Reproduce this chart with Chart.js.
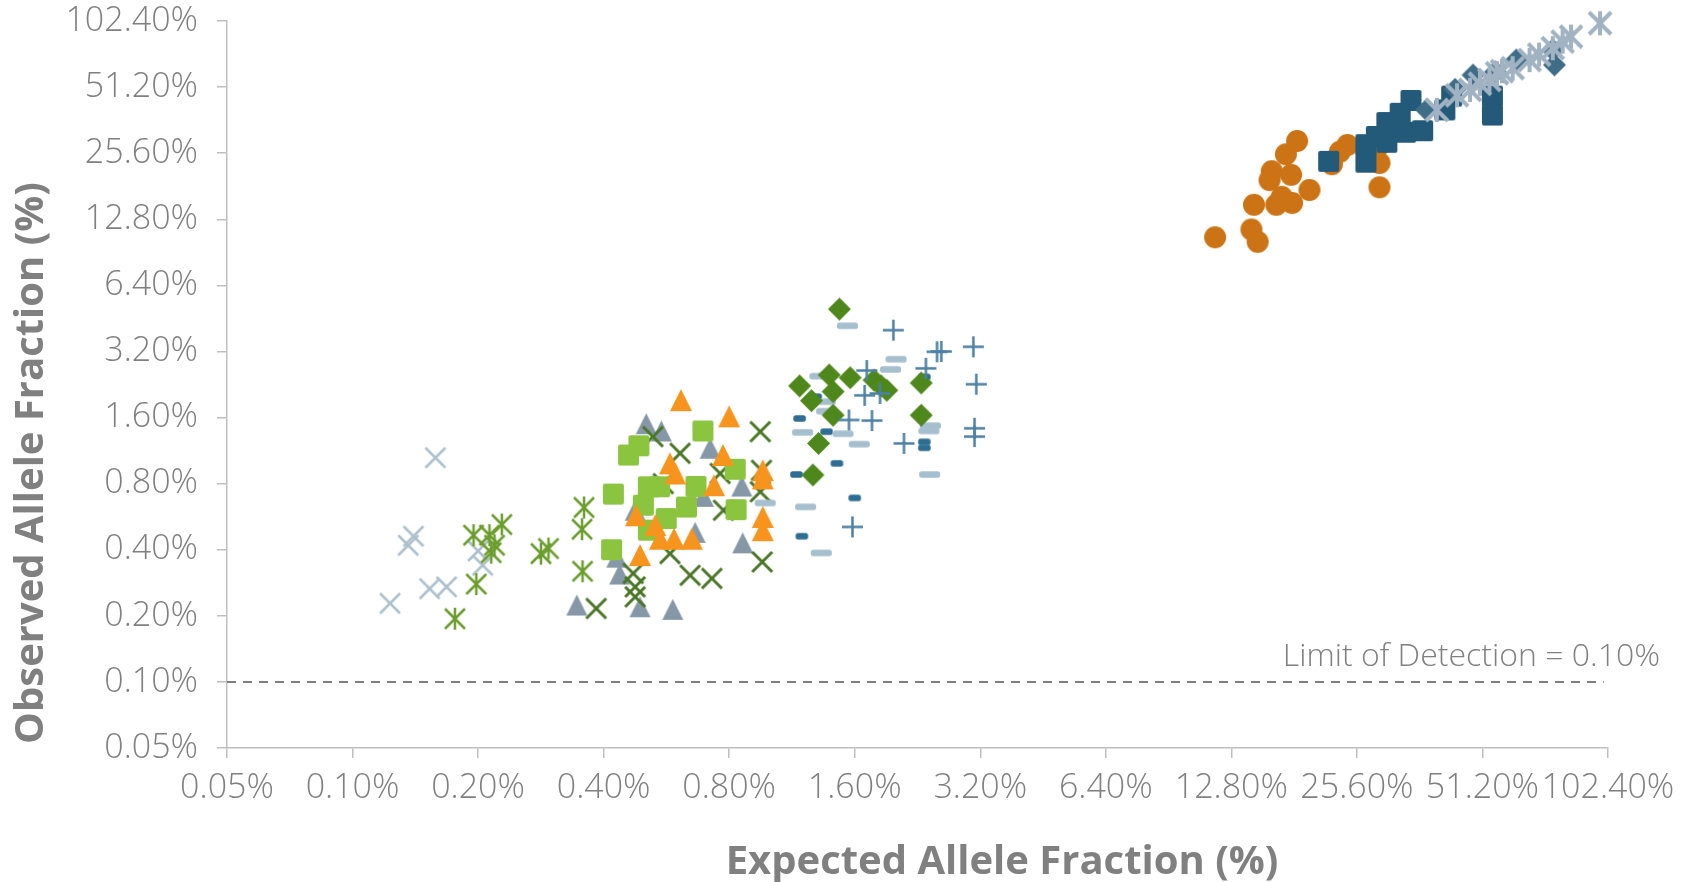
<!DOCTYPE html>
<html>
<head>
<meta charset="utf-8">
<script src="https://cdn.jsdelivr.net/npm/chart.js@4.4.1/dist/chart.umd.min.js"></script>
<style>
  html, body { margin: 0; padding: 0; background: #ffffff; }
  #wrap { width: 1688px; height: 882px; position: relative; }
</style>
</head>
<body>
<div id="wrap"><canvas id="chart"></canvas></div>
<script>
// Axis ticks (log2 spacing, percent)
const tickValues = [0.05, 0.1, 0.2, 0.4, 0.8, 1.6, 3.2, 6.4, 12.8, 25.6, 51.2, 102.4];
const tickLabels = ['0.05%', '0.10%', '0.20%', '0.40%', '0.80%', '1.60%', '3.20%', '6.40%', '12.80%', '25.60%', '51.20%', '102.40%'];

const xTitle = 'Expected Allele Fraction (%)';
const yTitle = 'Observed Allele Fraction (%)';
const lodValue = 0.1;
const lodSpan = [0.05, 100];
const lodLabel = 'Limit of Detection = 0.10%';

// Expected / observed allele fractions (%) per sample group
const paleCrossExp = [0.158, 0.140, 0.136, 0.200, 0.205, 0.153, 0.168, 0.123];
const paleCrossObs = [1.05, 0.461, 0.419, 0.395, 0.340, 0.266, 0.271, 0.228];

const greenStarExp = [0.195, 0.213, 0.219, 0.228, 0.215, 0.198, 0.176, 0.283, 0.295, 0.359, 0.355, 0.356];
const greenStarObs = [0.466, 0.466, 0.419, 0.521, 0.388, 0.279, 0.194, 0.384, 0.405, 0.623, 0.496, 0.319];

const grayTriExp = [0.506, 0.550, 0.720, 0.858, 0.694, 0.862, 0.663, 0.430, 0.437, 0.345, 0.489, 0.586, 0.476];
const grayTriObs = [1.50, 1.39, 1.16, 0.78, 0.70, 0.43, 0.48, 0.37, 0.31, 0.224, 0.220, 0.214, 0.605];

const darkCrossExp = [0.525, 0.610, 0.950, 0.956, 0.950, 0.761, 0.775, 0.577, 0.645, 0.727, 0.960, 0.471, 0.476, 0.476, 0.384, 0.556];
const darkCrossObs = [1.31, 1.10, 1.38, 0.92, 0.735, 0.89, 0.605, 0.384, 0.306, 0.296, 0.352, 0.312, 0.271, 0.244, 0.216, 0.80];

const greenSquareExp = [0.692, 0.486, 0.459, 0.827, 0.422, 0.512, 0.545, 0.666, 0.498, 0.632, 0.831, 0.565, 0.512, 0.418];
const greenSquareObs = [1.39, 1.19, 1.08, 0.93, 0.717, 0.774, 0.774, 0.777, 0.638, 0.626, 0.609, 0.555, 0.491, 0.400];

const orangeTriExp = [0.613, 0.800, 0.773, 0.577, 0.594, 0.736, 0.963, 0.963, 0.963, 0.963, 0.478, 0.532, 0.546, 0.590, 0.651, 0.489];
const orangeTriObs = [1.92, 1.62, 1.08, 0.99, 0.89, 0.787, 0.92, 0.845, 0.564, 0.491, 0.574, 0.518, 0.449, 0.449, 0.449, 0.378];

const navyDashExp = [1.18, 1.16, 1.195, 1.45, 1.60, 1.37, 2.35, 2.35, 1.29, 2.35];
const navyDashObs = [1.585, 0.881, 0.461, 0.99, 0.689, 1.38, 1.24, 1.165, 1.99, 2.45];

const paleDashExp = [1.537, 2.01, 1.95, 1.32, 1.36, 1.37, 1.20, 1.50, 1.64, 2.43, 2.41, 2.42, 1.22, 1.33, 0.976];
const paleDashObs = [4.19, 2.95, 2.65, 2.47, 1.89, 1.71, 1.37, 1.35, 1.21, 1.47, 1.39, 0.88, 0.627, 0.387, 0.653];

const greenDiamondExp = [1.47, 1.18, 1.39, 1.56, 1.26, 1.42, 1.42, 1.78, 1.85, 1.91, 2.31, 2.31, 1.31, 1.27];
const greenDiamondObs = [4.99, 2.23, 2.50, 2.43, 1.91, 2.10, 1.64, 2.37, 2.23, 2.13, 2.30, 1.64, 1.22, 0.876];

const bluePlusExp = [1.98, 2.52, 2.58, 3.08, 2.37, 1.71, 1.69, 1.84, 3.13, 1.55, 1.76, 2.10, 3.10, 3.10, 1.58];
const bluePlusObs = [4.00, 3.19, 3.20, 3.36, 2.68, 2.62, 2.02, 2.06, 2.27, 1.56, 1.55, 1.22, 1.43, 1.31, 0.508];

const orangeDotExp = [18.4, 17.3, 16.0, 15.8, 17.8, 19.7, 14.5, 16.9, 16.4, 17.9, 14.3, 14.8, 11.7, 22.3, 23.3, 24.3, 29.0, 29.0, 29.0];
const orangeDotObs = [29.1, 25.3, 21.2, 19.3, 20.4, 17.4, 14.9, 16.2, 14.9, 15.2, 11.5, 10.1, 10.6, 22.8, 26.0, 27.9, 27.9, 23.1, 17.9];

const navySquareExp = [21.9, 26.9, 26.9, 28.5, 30.2, 30.2, 32.5, 34.5, 33.5, 36.8, 41.6, 43.2, 54.1, 54.1];
const navySquareObs = [23.5, 28.0, 23.3, 30.5, 35.3, 28.7, 38.9, 44.5, 31.9, 32.4, 40.3, 46.6, 46.6, 38.2];

const slateDiamondExp = [48.6, 37.6, 76.2, 75.5, 61.7, 55.0, 44.0];
const slateDiamondObs = [58.1, 40.3, 64.6, 75.6, 68.0, 60.0, 50.0];

const paleStarExp = [98.0, 83.5, 79.7, 75.5, 66.4, 60.5, 55.5, 53.2, 47.8, 39.8, 70.0, 57.0, 50.5, 44.5];
const paleStarObs = [100.0, 86.9, 82.5, 77.0, 68.0, 62.4, 59.2, 55.2, 49.7, 40.3, 72.0, 60.5, 53.0, 47.0];

// Marker glyphs drawn once on small canvases and used as point styles
function roundRect(g, x, y, w, h, r) {
  g.beginPath();
  g.moveTo(x + r, y);
  g.lineTo(x + w - r, y);
  g.quadraticCurveTo(x + w, y, x + w, y + r);
  g.lineTo(x + w, y + h - r);
  g.quadraticCurveTo(x + w, y + h, x + w - r, y + h);
  g.lineTo(x + r, y + h);
  g.quadraticCurveTo(x, y + h, x, y + h - r);
  g.lineTo(x, y + r);
  g.quadraticCurveTo(x, y, x + r, y);
  g.closePath();
}

function marker(shape, color, size, lw, h2) {
  const pad = Math.ceil(lw || 0) + 2;
  const w = Math.ceil(size + pad * 2);
  const cv = document.createElement('canvas');
  cv.width = w; cv.height = w;
  const g = cv.getContext('2d');
  g.translate(w / 2, w / 2);
  g.fillStyle = color;
  g.strokeStyle = color;
  g.lineWidth = lw || 1;
  const h = size / 2;
  const seg = (a, b, c, d) => { g.beginPath(); g.moveTo(a, b); g.lineTo(c, d); g.stroke(); };
  if (shape === 'circle') {
    g.beginPath(); g.arc(0, 0, h, 0, Math.PI * 2); g.fill();
  } else if (shape === 'square') {
    roundRect(g, -h, -h, size, size, 2); g.fill();
  } else if (shape === 'dash') {
    const hh = h2 / 2;
    roundRect(g, -h, -hh, size, h2, 2.5); g.fill();
  } else if (shape === 'diamond') {
    g.beginPath(); g.moveTo(0, -h); g.lineTo(h, 0); g.lineTo(0, h); g.lineTo(-h, 0); g.closePath(); g.fill();
  } else if (shape === 'triangle') {
    g.beginPath(); g.moveTo(0, -h); g.lineTo(h, h); g.lineTo(-h, h); g.closePath(); g.fill();
  } else if (shape === 'cross') {
    seg(-h, -h, h, h); seg(-h, h, h, -h);
  } else if (shape === 'star') {
    seg(-h, -h, h, h); seg(-h, h, h, -h); seg(0, -h * 1.1, 0, h * 1.1);
  } else if (shape === 'plus') {
    seg(-h, 0, h, 0); seg(0, -h, 0, h);
  }
  return cv;
}

const groups = [
  { label: 'Group 1',  exp: paleCrossExp,    obs: paleCrossObs,    style: marker('cross', '#adc0ce', 20, 2.5) },
  { label: 'Group 2',  exp: greenStarExp,    obs: greenStarObs,    style: marker('star', '#6b9e2e', 20, 2.5) },
  { label: 'Group 3',  exp: grayTriExp,      obs: grayTriObs,      style: marker('triangle', '#8698a7', 21) },
  { label: 'Group 4',  exp: darkCrossExp,    obs: darkCrossObs,    style: marker('cross', '#4a7726', 20, 3) },
  { label: 'Group 5',  exp: greenSquareExp,  obs: greenSquareObs,  style: marker('square', '#8bc43f', 21) },
  { label: 'Group 6',  exp: orangeTriExp,    obs: orangeTriObs,    style: marker('triangle', '#f7941e', 22) },
  { label: 'Group 7',  exp: navyDashExp,     obs: navyDashObs,     style: marker('dash', '#2e6e93', 12.5, 0, 6.5) },
  { label: 'Group 8',  exp: paleDashExp,     obs: paleDashObs,     style: marker('dash', '#a6bfcf', 21, 0, 6.5) },
  { label: 'Group 9',  exp: greenDiamondExp, obs: greenDiamondObs, style: marker('diamond', '#4e871b', 23) },
  { label: 'Group 10', exp: bluePlusExp,     obs: bluePlusObs,     style: marker('plus', '#4c81a5', 21, 2.5) },
  { label: 'Group 11', exp: orangeDotExp,    obs: orangeDotObs,    style: marker('circle', '#cc7415', 22) },
  { label: 'Group 12', exp: navySquareExp,   obs: navySquareObs,   style: marker('square', '#245a79', 21) },
  { label: 'Group 13', exp: slateDiamondExp, obs: slateDiamondObs, style: marker('diamond', '#3f6d88', 23) },
  { label: 'Group 14', exp: paleStarExp,     obs: paleStarObs,     style: marker('star', '#a1b3c2', 22, 4) }
];

const datasets = groups.map((g, i) => ({
  type: 'scatter',
  label: g.label,
  data: g.exp.map((v, k) => ({ x: v, y: g.obs[k] })),
  pointStyle: g.style,
  pointRadius: 10,
  pointHoverRadius: 10,
  clip: false,
  order: groups.length - i
}));

datasets.push({
  type: 'line',
  label: 'LoD',
  data: lodSpan.map(v => ({ x: v, y: lodValue })),
  borderColor: '#7f7f7f',
  borderWidth: 2,
  borderDash: [9, 7],
  pointRadius: 0,
  fill: false,
  order: 100
});

const tickFont = { family: '"Open Sans", sans-serif', size: 34, weight: '300' };
const axisColor = '#bfbfbf';
const textColor = '#808080';

const captions = {
  id: 'captions',
  afterDraw(chart) {
    const { ctx, chartArea, scales } = chart;
    ctx.save();
    ctx.fillStyle = textColor;
    ctx.font = 'bold 40px "Open Sans", sans-serif';
    ctx.textBaseline = 'middle';
    ctx.textAlign = 'center';
    ctx.fillText(xTitle, chartArea.left + 775, chartArea.bottom + 115);
    ctx.translate(32, chartArea.top + 442);
    ctx.rotate(-Math.PI / 2);
    ctx.fillText(yTitle, 0, 0);
    ctx.restore();

    ctx.save();
    ctx.fillStyle = textColor;
    ctx.font = '300 32px "Open Sans", sans-serif';
    ctx.textAlign = 'right';
    ctx.textBaseline = 'middle';
    ctx.fillText(lodLabel, chartArea.right + 52, scales.y.getPixelForValue(lodValue) - 25);
    ctx.restore();
  }
};

function axis(afterFit) {
  return {
    type: 'logarithmic',
    min: tickValues[0],
    max: tickValues[tickValues.length - 1],
    afterBuildTicks: s => { s.ticks = tickValues.map(v => ({ value: v })); },
    afterFit,
    ticks: {
      callback: (v, i) => tickLabels[i],
      color: textColor,
      font: tickFont,
      autoSkip: false,
      maxRotation: 0,
      minRotation: 0
    },
    grid: { display: true, drawOnChartArea: false, drawTicks: true, tickLength: 10, color: axisColor, lineWidth: 1.5 },
    border: { display: true, color: axisColor, width: 1.5 },
    title: { display: false }
  };
}

const xAxis = axis(s => { s.height = 134; s.paddingLeft = 0; s.paddingRight = 0; });
xAxis.ticks.padding = 10;
const yAxis = axis(s => { s.width = 227; s.paddingTop = 0; s.paddingBottom = 0; });
yAxis.ticks.padding = 19;

new Chart(document.getElementById('chart'), {
  data: { datasets },
  options: {
    responsive: true,
    maintainAspectRatio: false,
    animation: false,
    events: [],
    layout: { padding: { top: 21, right: 80, left: 0, bottom: 0 } },
    plugins: { legend: { display: false }, tooltip: { enabled: false } },
    scales: { x: xAxis, y: yAxis }
  },
  plugins: [captions]
});
</script>
</body>
</html>
